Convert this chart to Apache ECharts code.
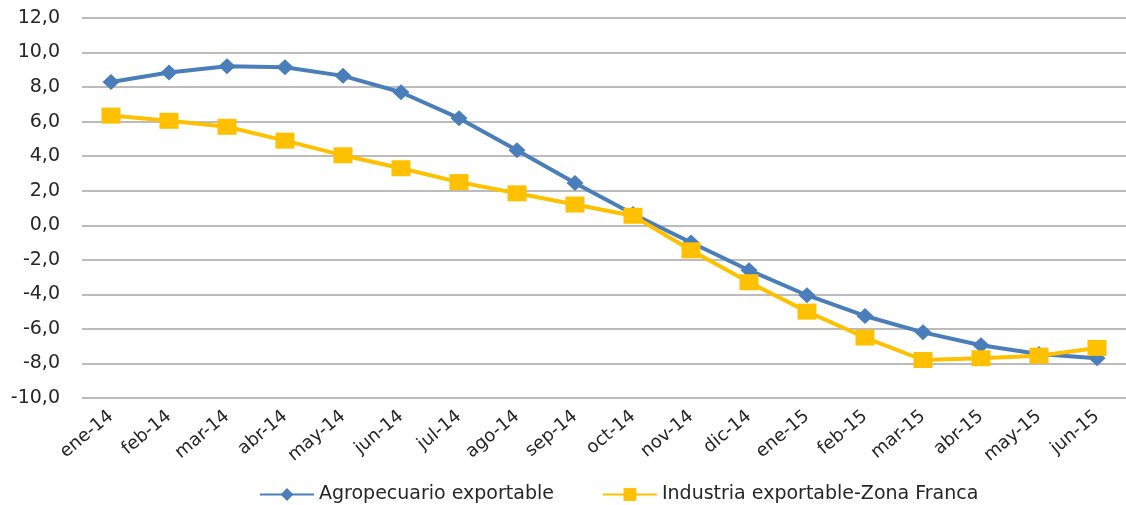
<!DOCTYPE html>
<html>
<head>
<meta charset="utf-8">
<script src="https://cdn.jsdelivr.net/npm/echarts@6/dist/echarts.min.js"></script>
<style>html,body{margin:0;padding:0;background:#fff}#c{width:1126px;height:505px}</style>
</head>
<body>
<div id="c"></div>
<script>
const categories = ['ene-14','feb-14','mar-14','abr-14','may-14','jun-14','jul-14','ago-14','sep-14','oct-14','nov-14','dic-14','ene-15','feb-15','mar-15','abr-15','may-15','jun-15'];
const agropecuario = [8.3, 8.85, 9.2, 9.15, 8.65, 7.7, 6.2, 4.35, 2.45, 0.65, -1.0, -2.6, -4.05, -5.25, -6.2, -6.95, -7.45, -7.7];
const industria = [6.35, 6.05, 5.7, 4.9, 4.05, 3.3, 2.5, 1.85, 1.2, 0.55, -1.45, -3.3, -5.0, -6.5, -7.8, -7.7, -7.55, -7.1];
const seriesNames = ['Agropecuario exportable', 'Industria exportable-Zona Franca'];

const FONT = 'DejaVu Sans';
const chart = echarts.init(document.getElementById('c'));
chart.setOption({
  animation: false,
  grid: { left: 82, right: -8, top: 18, bottom: 107 },
  legend: {
    left: 254, top: 480, itemWidth: 54, itemHeight: 16, itemGap: 48,
    textStyle: { fontFamily: FONT, fontSize: 19, color: '#262626' },
    data: seriesNames
  },
  xAxis: {
    type: 'category', data: categories, boundaryGap: true,
    axisLine: { show: false }, axisTick: { show: false },
    axisLabel: { rotate: 40, fontFamily: FONT, fontSize: 18, color: '#262626', margin: 16, interval: 0 }
  },
  yAxis: {
    type: 'value', min: -10, max: 12, interval: 2,
    axisLine: { show: false }, axisTick: { show: false },
    axisLabel: { fontFamily: FONT, fontSize: 19, color: '#262626', margin: 22,
      formatter: v => v.toFixed(1).replace('.', ',') },
    splitLine: { lineStyle: { color: '#a6a6a6', width: 1.5 } }
  },
  series: [
    { name: seriesNames[0], type: 'line', data: agropecuario, symbol: 'diamond', symbolSize: [17, 16],
      lineStyle: { color: '#4a7ebb', width: 4 }, itemStyle: { color: '#4a7ebb' } },
    { name: seriesNames[1], type: 'line', data: industria, symbol: 'rect', symbolSize: [19, 16],
      lineStyle: { color: '#ffc000', width: 4 }, itemStyle: { color: '#ffc000' } }
  ]
});
</script>
</body>
</html>
